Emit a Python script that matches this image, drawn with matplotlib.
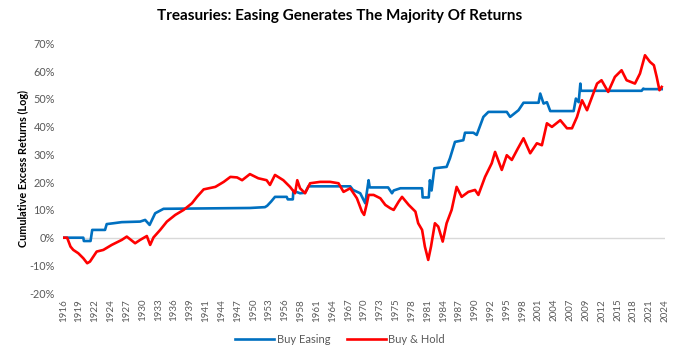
import matplotlib
matplotlib.use("Agg")
import matplotlib.pyplot as plt
import numpy as np

plt.rcParams['font.family'] = ['Lato', 'DejaVu Sans']

# Buy Easing (step-like series), year vs cumulative excess return in %
easing_years = [1916.0, 1919.6, 1919.7, 1920.9, 1921.2, 1923.5, 1923.8, 1925.0, 1926.5,
                1929.8, 1930.7, 1931.5, 1932.5, 1934.0, 1949.5, 1952.2, 1952.6, 1953.3,
                1954.0, 1956.1, 1956.3, 1957.2, 1957.3, 1958.5, 1959.4, 1960.0, 1967.5,
                1968.0, 1969.3, 1970.2, 1970.8, 1971.0, 1974.3, 1975.0, 1975.3, 1976.5,
                1980.4, 1980.5, 1981.6, 1981.8, 1982.1, 1982.6, 1984.8, 1985.4, 1986.3,
                1987.8, 1988.1, 1989.6, 1990.2, 1991.4, 1992.3, 1995.6, 1996.2, 1997.7,
                1998.6, 2001.3, 2001.6, 2002.2, 2002.8, 2003.4, 2007.6, 2008.0, 2008.5,
                2008.8, 2008.9, 2019.8, 2020.1, 2020.3, 2023.4]
easing_vals = [0.0, 0.0, -1.2, -1.2, 2.8, 2.8, 4.9, 5.2, 5.6,
               5.8, 6.4, 4.6, 8.8, 10.4, 10.7, 11.0, 11.5, 13.0,
               14.7, 14.7, 13.8, 13.8, 16.9, 16.0, 16.2, 18.5, 18.5,
               17.2, 16.0, 12.4, 20.7, 18.1, 18.1, 16.0, 17.0, 17.8,
               17.8, 14.5, 14.5, 20.7, 17.0, 25.0, 25.5, 28.6, 34.5,
               35.1, 37.8, 37.8, 37.0, 43.5, 45.3, 45.3, 43.5, 45.9,
               48.6, 48.6, 51.9, 48.3, 48.8, 45.6, 45.6, 50.1, 48.8,
               55.5, 52.9, 52.9, 53.7, 53.5, 53.5]

# Buy & Hold
hold_years = [1916.0, 1916.7, 1917.3, 1917.8, 1918.7, 1919.6, 1920.3, 1920.8, 1922.0,
              1923.2, 1924.7, 1926.5, 1927.4, 1928.9, 1929.8, 1931.0, 1931.6, 1932.2,
              1933.4, 1934.6, 1936.1, 1937.6, 1939.1, 1940.0, 1941.2, 1943.3, 1944.8,
              1946.0, 1947.2, 1948.1, 1949.5, 1951.0, 1952.5, 1953.1, 1954.0, 1955.5,
              1956.7, 1957.6, 1958.0, 1958.5, 1959.4, 1960.3, 1962.1, 1963.9, 1965.4,
              1966.3, 1967.5, 1968.7, 1969.6, 1970.0, 1970.5, 1970.8, 1971.7, 1972.9,
              1973.8, 1974.7, 1975.3, 1976.2, 1976.8, 1978.0, 1979.2, 1979.7, 1980.4,
              1980.9, 1981.5, 1982.0, 1982.7, 1983.3, 1984.1, 1984.8, 1985.7, 1986.6,
              1987.5, 1988.7, 1989.9, 1990.5, 1991.7, 1992.9, 1993.5, 1994.7, 1995.6,
              1996.5, 1997.5, 1998.6, 1999.8, 2001.0, 2001.9, 2002.8, 2003.7, 2005.2,
              2006.4, 2007.3, 2008.2, 2009.1, 2010.0, 2010.9, 2011.8, 2012.6, 2013.8,
              2015.0, 2016.2, 2017.1, 2018.6, 2019.5, 2020.4, 2021.3, 2022.0, 2022.5,
              2023.0, 2023.4]
hold_vals = [0.0, 0.0, -3.2, -4.4, -5.6, -7.4, -9.2, -8.6, -5.0,
             -4.4, -2.6, -0.8, 0.4, -2.0, -0.8, 0.6, -2.6, 0.1,
             2.8, 5.8, 8.2, 10.0, 12.4, 14.7, 17.4, 18.3, 20.1,
             21.9, 21.7, 20.7, 22.9, 21.4, 20.7, 19.0, 22.6, 20.7,
             18.3, 16.0, 20.7, 17.8, 16.0, 19.6, 20.1, 20.1, 19.6,
             16.5, 17.8, 14.2, 9.4, 8.2, 12.4, 15.4, 15.4, 14.2,
             11.8, 10.6, 10.0, 13.0, 14.7, 11.8, 9.4, 5.2, 2.8,
             -3.2, -8.0, -3.2, 5.2, 4.0, -1.4, 5.2, 10.0, 18.3,
             14.7, 16.5, 17.2, 15.4, 21.9, 26.8, 30.9, 24.4, 29.7,
             28.0, 31.8, 35.8, 30.4, 34.0, 33.3, 41.2, 39.9, 42.3,
             39.4, 39.4, 43.5, 49.5, 45.9, 50.7, 55.5, 56.7, 52.5,
             57.9, 60.3, 56.7, 55.5, 59.1, 65.7, 63.3, 62.1, 57.9,
             53.1, 54.3]

tick_labels = ['1916', '1919', '1922', '1924', '1927', '1930', '1933', '1936', '1939',
               '1941', '1944', '1947', '1950', '1953', '1956', '1958', '1961', '1964',
               '1967', '1970', '1973', '1975', '1978', '1981', '1984', '1987', '1990',
               '1992', '1995', '1998', '2001', '2004', '2007', '2009', '2012', '2015',
               '2018', '2021', '2024']

fig = plt.figure(figsize=(6.8, 3.55), dpi=100)
ax = fig.add_axes([0.093, 0.174, 0.885, 0.704])

ax.axhline(0, color='#d9d9d9', lw=1, zorder=1)
ax.plot(easing_years, np.array(easing_vals) / 100, color='#0070C0', lw=1.9,
        label='Buy Easing', zorder=3)
ax.plot(hold_years, np.array(hold_vals) / 100, color='#FF0000', lw=1.9,
        label='Buy & Hold', zorder=3)

ax.set_xlim(1916, 2024)
ax.set_ylim(-0.2, 0.7)
ax.set_yticks(np.arange(-0.2, 0.71, 0.1))
ax.set_yticklabels([f'{int(round(v * 100))}%' for v in np.arange(-0.2, 0.71, 0.1)])
ax.set_xticks(np.linspace(1916, 2024, len(tick_labels)))
ax.set_xticklabels(tick_labels, rotation=90)
ax.tick_params(length=0, colors='#595959', pad=4)
ax.tick_params(axis='x', labelsize=7)
ax.tick_params(axis='y', labelsize=7.8, pad=6)
for s in ax.spines.values():
    s.set_visible(False)

ax.set_ylabel('Cumulative Excess Returns (Log)', fontsize=7.8, fontweight='bold',
              color='black')
ax.yaxis.set_label_coords(-0.057, 0.5)
fig.suptitle('Treasuries: Easing Generates The Majority Of Returns', fontsize=11,
             fontweight='bold', y=0.975)

fig.legend(loc='center', bbox_to_anchor=(0.5, 0.045), ncol=2, frameon=False,
           fontsize=8, labelcolor='#595959', handlelength=3.5, handletextpad=0.2,
           columnspacing=1.5)

fig.savefig('out.png', dpi=100)
